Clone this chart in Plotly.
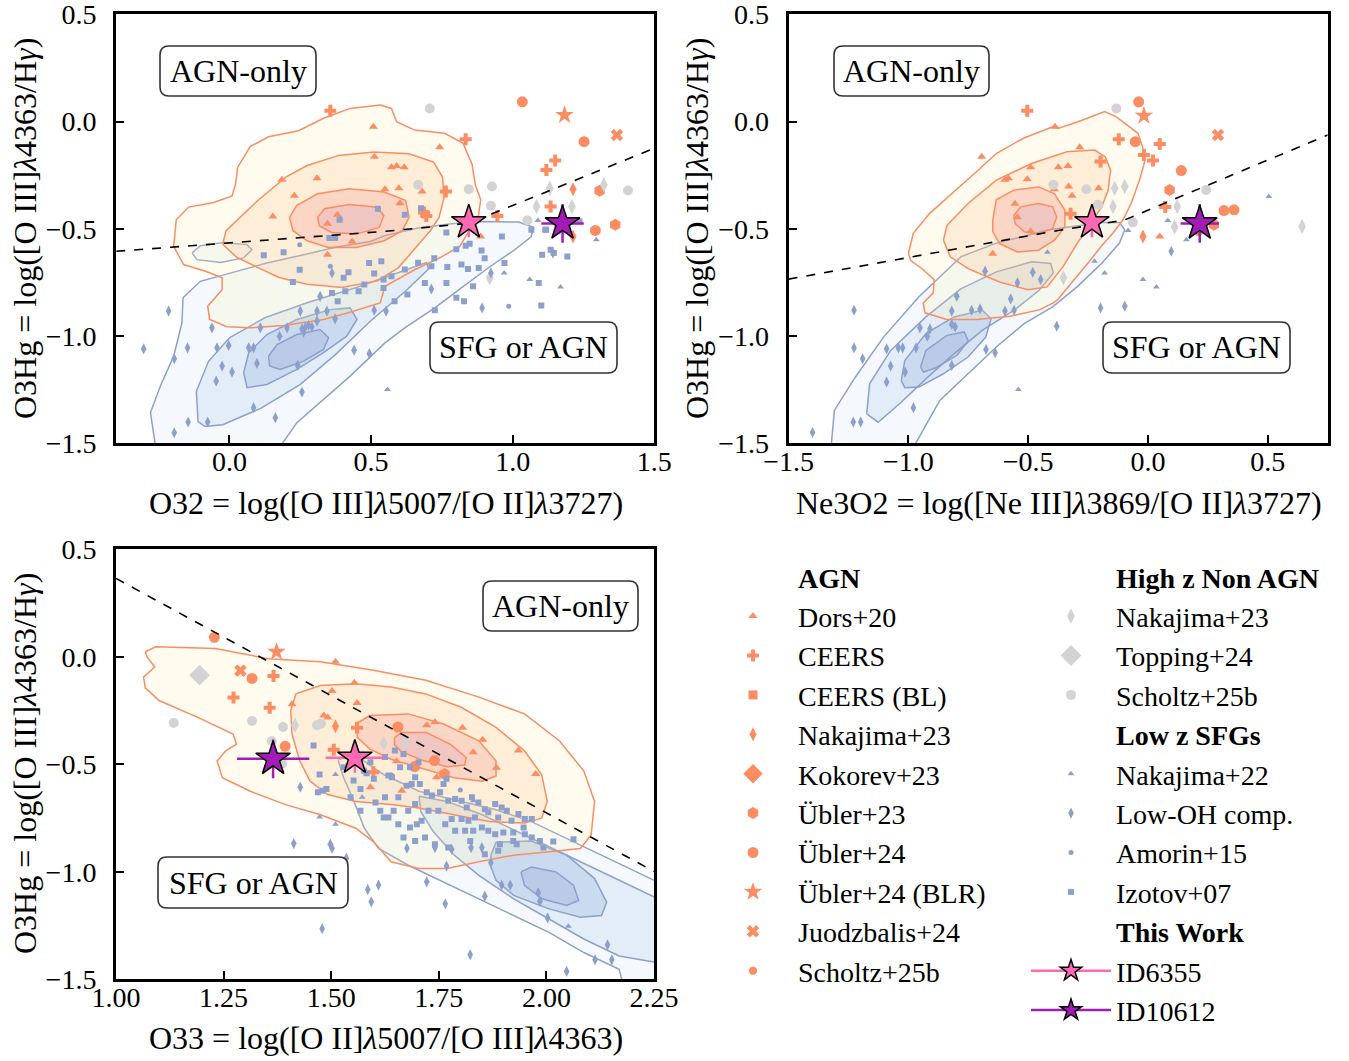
import plotly.graph_objects as go

# ---------------- colours ----------------
ORANGE = "#FC8D62"
BLUE = "#8DA0CB"
GRAY = "#D3D3D3"
PINK = "#FF69B4"
PURPLE = "#A11DB6"

# ---------------- demarcation lines ----------------
P1_DASH = [(-0.40, -0.605), (0.07, -0.559), (0.55, -0.512), (0.84, -0.475), (0.89, -0.45), (1.14, -0.317), (1.50, -0.125)]
P2_DASH = [(-1.50, -0.735), (-0.37, -0.507), (-0.10, -0.46), (0.75, -0.063)]
P3_DASH = [(1.00, 0.364), (2.25, -0.999)]

# ---------------- KDE contour levels (outer -> inner) ----------------
P1_AGN_C1 = [(-0.197, -0.582), (-0.188, -0.458), (-0.144, -0.399), (-0.056, -0.378), (0.009, -0.347), (0.021, -0.295), (0.029, -0.213), (0.073, -0.117), (0.138, -0.071), (0.244, -0.043), (0.332, 0.015), (0.426, 0.061), (0.532, 0.077), (0.572, 0.061), (0.590, -0.001), (0.654, -0.040), (0.760, -0.055), (0.825, -0.102), (0.857, -0.202), (0.868, -0.295), (0.887, -0.365), (0.878, -0.450), (0.848, -0.505), (0.813, -0.582), (0.742, -0.636), (0.654, -0.691), (0.549, -0.768), (0.532, -0.846), (0.426, -0.889), (0.332, -0.923), (0.191, -0.951), (0.073, -0.962), (-0.009, -0.957), (-0.070, -0.923), (-0.077, -0.861), (-0.026, -0.784), (-0.026, -0.729), (-0.085, -0.698), (-0.162, -0.667)]
P1_AGN_C2 = [(-0.024, -0.572), (-0.012, -0.509), (0.100, -0.368), (0.199, -0.259), (0.274, -0.205), (0.386, -0.158), (0.510, -0.142), (0.634, -0.150), (0.721, -0.189), (0.752, -0.259), (0.758, -0.353), (0.740, -0.447), (0.709, -0.509), (0.659, -0.587), (0.597, -0.681), (0.522, -0.743), (0.398, -0.774), (0.274, -0.759), (0.175, -0.727), (0.100, -0.681), (0.026, -0.634)]
P1_AGN_C3 = [(0.212, -0.447), (0.237, -0.392), (0.311, -0.337), (0.423, -0.314), (0.547, -0.329), (0.622, -0.368), (0.634, -0.447), (0.610, -0.509), (0.547, -0.556), (0.448, -0.587), (0.349, -0.587), (0.274, -0.556), (0.224, -0.509)]
P1_AGN_C4 = [(0.311, -0.447), (0.336, -0.407), (0.423, -0.387), (0.522, -0.400), (0.545, -0.439), (0.529, -0.494), (0.448, -0.525), (0.361, -0.517), (0.317, -0.486)]
P1_SFG_C1 = [(-0.256, -1.559), (-0.279, -1.357), (-0.244, -1.233), (-0.197, -1.094), (-0.168, -0.939), (-0.164, -0.822), (-0.103, -0.745), (0.015, -0.703), (0.132, -0.660), (0.262, -0.621), (0.379, -0.585), (0.497, -0.559), (0.549, -0.532), (0.666, -0.497), (0.784, -0.477), (0.901, -0.466), (1.020, -0.469), (1.072, -0.492), (1.066, -0.536), (1.007, -0.598), (0.913, -0.683), (0.819, -0.776), (0.725, -0.869), (0.619, -0.962), (0.549, -1.032), (0.426, -1.187), (0.332, -1.295), (0.238, -1.404), (0.156, -1.559)]
P1_SFG_C1B = [(-0.132, -0.613), (-0.103, -0.579), (-0.021, -0.564), (0.062, -0.574), (0.079, -0.598), (0.050, -0.636), (-0.032, -0.657), (-0.115, -0.644)]
P1_SFG_C2 = [(-0.111, -1.399), (-0.117, -1.258), (-0.074, -1.118), (0.000, -1.008), (0.125, -0.915), (0.274, -0.845), (0.448, -0.774), (0.610, -0.696), (0.696, -0.657), (0.703, -0.688), (0.622, -0.790), (0.498, -0.930), (0.374, -1.087), (0.249, -1.227), (0.112, -1.336), (-0.024, -1.414), (-0.086, -1.422)]
P1_SFG_C3 = [(0.050, -1.171), (0.068, -1.078), (0.132, -0.993), (0.238, -0.923), (0.356, -0.877), (0.426, -0.869), (0.450, -0.923), (0.414, -1.001), (0.332, -1.078), (0.238, -1.156), (0.132, -1.226), (0.062, -1.241)]
P1_SFG_C4 = [(0.138, -1.094), (0.168, -1.040), (0.238, -0.993), (0.320, -0.970), (0.350, -1.008), (0.332, -1.063), (0.262, -1.117), (0.179, -1.156), (0.142, -1.140)]

P2_AGN_C1 = [(-1.000, -0.613), (-0.979, -0.520), (-0.910, -0.427), (-0.799, -0.319), (-0.715, -0.233), (-0.632, -0.148), (-0.520, -0.078), (-0.395, -0.024), (-0.376, -0.032), (-0.292, -0.001), (-0.181, 0.046), (-0.132, 0.022), (-0.097, -0.009), (-0.042, -0.055), (-0.021, -0.125), (-0.014, -0.187), (-0.035, -0.272), (-0.070, -0.381), (-0.104, -0.458), (-0.146, -0.520), (-0.195, -0.582), (-0.250, -0.660), (-0.320, -0.753), (-0.376, -0.830), (-0.395, -0.846), (-0.451, -0.877), (-0.576, -0.908), (-0.715, -0.923), (-0.840, -0.923), (-0.931, -0.892), (-0.938, -0.846), (-0.896, -0.799), (-0.893, -0.737), (-0.938, -0.691), (-0.991, -0.647)]
P2_AGN_C2 = [(-0.854, -0.553), (-0.839, -0.484), (-0.751, -0.382), (-0.633, -0.273), (-0.486, -0.196), (-0.339, -0.141), (-0.222, -0.133), (-0.178, -0.165), (-0.156, -0.227), (-0.166, -0.320), (-0.193, -0.398), (-0.240, -0.476), (-0.296, -0.569), (-0.355, -0.678), (-0.421, -0.771), (-0.502, -0.784), (-0.620, -0.748), (-0.751, -0.686), (-0.825, -0.631)]
P2_AGN_C3 = [(-0.648, -0.458), (-0.633, -0.365), (-0.560, -0.320), (-0.457, -0.305), (-0.391, -0.336), (-0.347, -0.413), (-0.347, -0.491), (-0.391, -0.553), (-0.457, -0.600), (-0.545, -0.608), (-0.620, -0.569), (-0.648, -0.514)]
P2_AGN_C4 = [(-0.560, -0.437), (-0.531, -0.398), (-0.457, -0.382), (-0.398, -0.398), (-0.381, -0.445), (-0.398, -0.499), (-0.457, -0.526), (-0.517, -0.514), (-0.554, -0.476)]
P2_SFG_C1 = [(-1.324, -1.533), (-1.309, -1.347), (-1.221, -1.191), (-1.103, -1.004), (-0.956, -0.817), (-0.883, -0.739), (-0.780, -0.630), (-0.633, -0.567), (-0.413, -0.505), (-0.193, -0.471), (-0.119, -0.471), (-0.097, -0.505), (-0.119, -0.567), (-0.193, -0.661), (-0.296, -0.771), (-0.398, -0.864), (-0.517, -0.942), (-0.633, -1.051), (-0.751, -1.176), (-0.869, -1.300), (-0.986, -1.533)]
P2_SFG_C2 = [(-1.174, -1.363), (-1.162, -1.223), (-1.074, -1.067), (-0.927, -0.911), (-0.780, -0.779), (-0.633, -0.701), (-0.486, -0.654), (-0.406, -0.662), (-0.395, -0.706), (-0.454, -0.787), (-0.560, -0.881), (-0.692, -0.974), (-0.810, -1.083), (-0.927, -1.200), (-1.030, -1.309), (-1.126, -1.402)]
P2_SFG_C3 = [(-1.030, -1.208), (-1.015, -1.114), (-0.927, -0.989), (-0.810, -0.911), (-0.692, -0.880), (-0.655, -0.919), (-0.677, -1.005), (-0.751, -1.098), (-0.854, -1.176), (-0.956, -1.238), (-1.015, -1.241)]
P2_SFG_C4 = [(-0.949, -1.145), (-0.927, -1.067), (-0.839, -0.997), (-0.767, -0.981), (-0.750, -1.023), (-0.797, -1.090), (-0.885, -1.148), (-0.937, -1.168)]

P3_AGN_C1 = [(1.068, 0.023), (1.092, 0.046), (1.231, 0.038), (1.353, -0.009), (1.475, -0.024), (1.598, -0.063), (1.720, -0.110), (1.843, -0.188), (1.949, -0.266), (2.030, -0.391), (2.087, -0.532), (2.112, -0.673), (2.104, -0.829), (2.079, -0.892), (2.006, -0.907), (1.924, -0.923), (1.843, -0.954), (1.769, -0.985), (1.704, -0.985), (1.639, -0.954), (1.598, -0.860), (1.557, -0.798), (1.475, -0.735), (1.394, -0.688), (1.312, -0.626), (1.247, -0.563), (1.235, -0.485), (1.255, -0.438), (1.280, -0.407), (1.272, -0.360), (1.190, -0.282), (1.100, -0.204), (1.068, -0.145), (1.064, -0.095), (1.090, -0.048), (1.072, -0.001)]
P3_AGN_C2 = [(1.406, -0.251), (1.418, -0.173), (1.475, -0.134), (1.557, -0.126), (1.639, -0.141), (1.720, -0.173), (1.802, -0.235), (1.883, -0.329), (1.949, -0.438), (1.989, -0.548), (2.002, -0.673), (1.989, -0.751), (1.949, -0.774), (1.867, -0.767), (1.785, -0.735), (1.704, -0.704), (1.639, -0.688), (1.557, -0.673), (1.492, -0.641), (1.451, -0.579), (1.427, -0.485), (1.409, -0.360)]
P3_AGN_C3 = [(1.557, -0.313), (1.590, -0.274), (1.679, -0.266), (1.761, -0.313), (1.843, -0.391), (1.883, -0.485), (1.883, -0.555), (1.851, -0.579), (1.785, -0.563), (1.720, -0.524), (1.639, -0.477), (1.590, -0.430), (1.561, -0.376)]
P3_AGN_C4 = [(1.647, -0.376), (1.663, -0.352), (1.720, -0.352), (1.777, -0.407), (1.814, -0.470), (1.810, -0.504), (1.769, -0.512), (1.712, -0.482), (1.663, -0.441), (1.647, -0.410)]
P3_SFG_C1 = [(1.516, -0.482), (1.537, -0.457), (1.565, -0.470), (1.622, -0.548), (1.704, -0.626), (1.802, -0.673), (1.883, -0.712), (1.965, -0.767), (2.047, -0.845), (2.128, -0.923), (2.210, -1.001), (2.291, -1.079), (2.291, -1.767), (2.210, -1.767), (2.169, -1.454), (2.087, -1.376), (2.006, -1.282), (1.924, -1.204), (1.843, -1.126), (1.761, -1.048), (1.679, -0.970), (1.610, -0.892), (1.577, -0.798), (1.553, -0.673), (1.529, -0.563)]
P3_SFG_C2 = [(1.704, -0.649), (1.769, -0.673), (1.851, -0.735), (1.932, -0.813), (2.014, -0.892), (2.095, -0.970), (2.177, -1.048), (2.259, -1.126), (2.291, -1.220), (2.259, -1.423), (2.169, -1.392), (2.087, -1.313), (2.006, -1.220), (1.924, -1.126), (1.843, -1.017), (1.786, -0.923), (1.737, -0.813), (1.708, -0.720)]
P3_SFG_C3 = [(1.871, -0.923), (1.883, -0.863), (1.965, -0.857), (2.047, -0.923), (2.112, -1.032), (2.140, -1.142), (2.128, -1.204), (2.079, -1.212), (2.006, -1.173), (1.924, -1.110), (1.883, -1.040), (1.871, -0.977)]
P3_SFG_C4 = [(1.941, -1.001), (1.965, -0.978), (2.022, -1.001), (2.063, -1.063), (2.075, -1.134), (2.047, -1.157), (1.990, -1.126), (1.949, -1.063)]

# ---------------- points: panel 1 (O32, O3Hg) ----------------
P1_DORS = [(0.508, -0.024), (0.512, -0.164), (0.185, -0.272), (0.309, -0.264), (0.229, -0.346), (0.153, -0.443), (0.381, -0.435), (0.346, -0.477), (0.433, -0.559), (0.346, -0.621), (0.742, -0.120), (0.572, -0.213), (0.590, -0.207), (0.617, -0.213), (0.598, -0.311), (0.680, -0.326), (0.602, -0.381), (0.549, -0.316), (0.887, -0.536)]
P1_CEERS = [(0.356, 0.050), (0.834, -0.083), (1.150, -0.182), (1.119, -0.226), (0.764, -0.326), (0.687, -0.424), (0.695, -0.440), (0.946, -0.440), (1.134, -0.396)]
P1_CEERS_BL = []
P1_NAK23_AGN = [(1.213, -0.316), (1.213, -0.536)]
P1_KOKOREV = []
P1_UBLER23 = [(1.307, -0.323), (1.362, -0.481)]
P1_UBLER24 = [(1.034, 0.092), (1.252, -0.094), (1.292, -0.508)]
P1_UBLER24_BLR = [(1.183, 0.030)]
P1_JUOD = [(1.368, -0.063)]
P1_SCH_AGN = []
P1_NAK23_HZ = [(1.084, -0.396), (1.131, -0.311), (1.209, -0.396), (1.322, -0.295), (0.919, -0.729)]
P1_TOPPING = []
P1_SCH_HZ = [(0.707, 0.061), (0.666, -0.295), (0.845, -0.316), (0.927, -0.303), (0.923, -0.393), (1.052, -0.461), (1.407, -0.322), (1.166, -0.505)]
P1_NAK22 = [(1.089, -0.461), (1.295, -0.551), (1.169, -0.771), (1.060, -0.737), (0.970, -0.706), (0.558, -1.249)]
P1_LOWOH = [(-0.215, -0.884), (-0.303, -1.060), (-0.195, -1.106), (-0.148, -1.055), (-0.062, -0.962), (-0.044, -1.055), (-0.026, -1.140), (0.009, -1.168), (-0.047, -1.210), (-0.003, -1.044), (0.068, -1.055), (0.085, -1.055), (0.097, -1.128), (0.109, -0.962), (0.177, -1.001), (0.203, -0.962), (0.256, -0.967), (0.268, -0.958), (0.279, -0.951), (0.291, -0.958), (0.309, -0.931), (0.262, -0.982), (0.241, -1.137), (0.256, -1.261), (0.085, -1.334), (0.162, -1.381), (-0.146, -1.401), (-0.077, -1.401), (-0.195, -1.451), (0.250, -0.884), (0.309, -0.884), (0.344, -0.884), (0.373, -0.920), (0.320, -0.815), (0.362, -0.706), (0.440, -1.066), (0.494, -1.082), (0.511, -0.880), (0.553, -0.884), (0.713, -0.781), (0.892, -0.869), (0.923, -0.706), (1.142, -0.613)]
P1_AMORIN = [(0.986, -0.861), (0.248, -0.575), (0.356, -0.675)]
P1_IZOTOV = [(0.121, -0.624), (0.191, -0.609), (0.248, -0.691), (0.224, -0.748), (0.353, -0.543), (0.373, -0.543), (0.389, -0.458), (0.524, -0.407), (0.493, -0.660), (0.536, -0.652), (0.420, -0.703), (0.403, -0.729), (0.362, -0.799), (0.409, -0.791), (0.456, -0.791), (0.476, -0.760), (0.511, -0.709), (0.544, -0.737), (0.544, -0.776), (0.382, -0.838), (0.676, -0.404), (0.619, -0.435), (0.766, -0.517), (0.801, -0.595), (0.834, -0.579), (0.848, -0.570), (0.890, -0.601), (0.962, -0.536), (0.901, -0.637), (0.769, -0.678), (0.819, -0.667), (0.842, -0.688), (0.880, -0.683), (0.723, -0.637), (0.713, -0.675), (0.666, -0.659), (0.619, -0.690), (0.572, -0.722), (0.628, -0.807), (0.583, -0.838), (0.690, -0.753), (0.766, -0.753), (0.860, -0.768), (0.801, -0.822), (0.828, -0.838), (0.725, -0.880), (0.971, -0.660), (1.092, -0.753), (1.101, -0.858), (1.115, -0.505), (1.134, -0.598), (1.145, -0.613), (1.104, -0.621), (1.193, -0.629), (1.236, -0.466), (1.066, -0.505), (1.118, -0.505)]

# ---------------- points: panel 2 (Ne3O2, O3Hg) ----------------
P2_DORS = [(-0.388, -0.024), (-0.694, -0.164), (-0.490, -0.213), (-0.597, -0.272), (-0.583, -0.264), (-0.504, -0.269), (-0.555, -0.384), (-0.545, -0.446), (-0.490, -0.512), (-0.648, -0.616), (-0.391, -0.316), (-0.374, -0.213), (-0.285, -0.120), (-0.334, -0.207), (-0.331, -0.303), (-0.206, -0.311), (-0.317, -0.346), (0.049, -0.536)]
P2_CEERS = [(-0.504, 0.050), (-0.122, -0.083), (0.049, -0.105), (-0.017, -0.156), (0.021, -0.182), (-0.198, -0.187), (-0.323, -0.430), (0.072, -0.399)]
P2_CEERS_BL = []
P2_NAK23_AGN = [(-0.021, -0.536)]
P2_KOKOREV = []
P2_UBLER23 = [(0.090, -0.319), (0.275, -0.481)]
P2_UBLER24 = [(-0.039, 0.092), (-0.053, -0.094), (0.139, -0.229), (0.317, -0.415), (0.359, -0.412), (0.209, -0.508)]
P2_UBLER24_BLR = [(-0.017, 0.027)]
P2_JUOD = [(0.292, -0.063)]
P2_SCH_AGN = []
P2_NAK23_HZ = [(-0.139, -0.311), (-0.097, -0.303), (-0.146, -0.396), (0.122, -0.396), (0.111, -0.492), (0.643, -0.489), (-0.353, -0.729)]
P2_TOPPING = []
P2_SCH_HZ = [(-0.132, 0.061), (-0.257, -0.316), (-0.209, -0.388), (-0.063, -0.471), (0.243, -0.319), (-0.395, -0.295)]
P2_NAK22 = [(-0.083, -0.508), (0.083, -0.461), (0.160, -0.551), (0.504, -0.350), (-0.223, -0.652), (-0.181, -0.706), (-0.021, -0.737), (0.035, -0.771), (-0.420, -0.610), (-0.541, -1.249)]
P2_LOWOH = [(-1.227, -0.880), (-1.227, -1.055), (-1.191, -1.106), (-1.091, -1.060), (-1.042, -1.055), (-1.024, -1.055), (-1.074, -1.140), (-1.091, -1.215), (-1.014, -1.168), (-0.979, -1.334), (-1.230, -1.401), (-1.199, -1.401), (-1.400, -1.450), (-0.952, -0.962), (-0.921, -1.001), (-0.968, -1.055), (-0.910, -0.967), (-0.819, -0.946), (-0.805, -0.957), (-0.798, -0.815), (-0.819, -0.884), (-0.736, -0.880), (-0.701, -0.874), (-0.819, -1.137), (-0.676, -1.063), (-0.638, -1.078), (-0.597, -0.884), (-0.559, -0.880), (-0.573, -0.827), (-0.545, -0.752), (-0.481, -0.703), (-0.448, -0.737), (-0.680, -0.698), (-0.381, -0.954), (0.097, -0.605), (-0.198, -0.869), (-0.097, -0.861)]
P2_AMORIN = []
P2_IZOTOV = []

# ---------------- points: panel 3 (O33, O3Hg) ----------------
P3_DORS = [(1.510, -0.023), (1.554, -0.121), (1.502, -0.159), (1.560, -0.215), (1.483, -0.273), (1.492, -0.283), (1.409, -0.221), (1.591, -0.607), (1.741, -0.304), (1.722, -0.319), (1.805, -0.330), (1.852, -0.386), (1.830, -0.444), (1.935, -0.436), (1.884, -0.517), (1.975, -0.545), (1.664, -0.623), (1.745, -0.561), (1.652, -0.486)]
P3_CEERS = [(1.366, -0.090), (1.273, -0.190), (1.357, -0.237), (1.560, -0.331), (1.506, -0.433), (1.598, -0.537)]
P3_CEERS_BL = []
P3_NAK23_AGN = [(1.510, -0.324)]
P3_KOKOREV = []
P3_UBLER23 = [(1.763, -0.545)]
P3_UBLER24 = [(1.2285, 0.090), (1.316, -0.101), (1.393, -0.417), (1.655, -0.327), (1.740, -0.483), (1.694, -0.511)]
P3_UBLER24_BLR = [(1.373, 0.023)]
P3_JUOD = [(1.289, -0.065)]
P3_SCH_AGN = []
P3_NAK23_HZ = [(1.416, -0.319), (1.622, -0.402), (1.673, -0.402)]
P3_TOPPING = [(1.194, -0.086)]
P3_SCH_HZ = [(1.134, -0.308), (1.316, -0.299), (1.388, -0.327), (1.467, -0.319), (1.476, -0.312), (1.362, -0.393), (1.386, -0.498)]
P3_NAK22 = [(1.473, -0.745), (1.510, -0.779), (1.510, -0.548), (1.572, -0.654), (1.830, -0.670), (2.051, -1.254)]
P3_LOWOH = [(1.428, -0.607), (1.413, -0.869), (1.498, -0.872), (1.502, -0.891), (1.535, -0.937), (1.585, -1.083), (1.610, -1.062), (1.593, -1.140), (1.479, -1.265), (1.676, -0.891), (1.741, -0.888), (1.768, -0.974), (1.722, -1.047), (1.765, -1.149), (1.857, -1.114), (1.896, -1.062), (1.916, -1.062), (1.981, -1.098), (2.003, -1.215), (1.823, -1.386), (2.047, -1.464), (2.113, -1.410), (2.152, -1.410), (2.142, -1.340), (1.825, -0.888), (1.850, -0.888), (1.780, -0.896), (1.871, -0.958), (1.985, -1.137)]
P3_AMORIN = [(1.640, -0.550), (1.800, -0.620)]
P3_IZOTOV = [(1.625, -0.467), (1.633, -0.553), (1.641, -0.561), (1.648, -0.436), (1.668, -0.452), (1.660, -0.514), (1.683, -0.514), (1.703, -0.491), (1.695, -0.561), (1.706, -0.592), (1.687, -0.592), (1.675, -0.600), (1.656, -0.654), (1.625, -0.654), (1.645, -0.717), (1.656, -0.779), (1.633, -0.748), (1.679, -0.717), (1.695, -0.685), (1.722, -0.631), (1.734, -0.646), (1.753, -0.631), (1.761, -0.592), (1.768, -0.568), (1.772, -0.670), (1.788, -0.662), (1.803, -0.670), (1.815, -0.701), (1.827, -0.654), (1.842, -0.678), (1.857, -0.709), (1.865, -0.724), (1.881, -0.685), (1.896, -0.701), (1.908, -0.717), (1.888, -0.748), (1.919, -0.763), (1.935, -0.732), (1.950, -0.755), (1.966, -0.755), (1.947, -0.794), (1.923, -0.818), (1.900, -0.818), (1.881, -0.826), (1.865, -0.810), (1.850, -0.794), (1.834, -0.748), (1.819, -0.763), (1.803, -0.755), (1.780, -0.755), (1.765, -0.779), (1.749, -0.717), (1.726, -0.717), (1.710, -0.763), (1.699, -0.779), (1.683, -0.794), (1.668, -0.841), (1.695, -0.857), (1.718, -0.841), (1.741, -0.872), (1.772, -0.888), (1.788, -0.810), (1.811, -0.810), (1.830, -0.810), (1.823, -0.857), (1.892, -0.872), (1.923, -0.857), (1.950, -0.826), (1.966, -0.841), (1.985, -0.857), (2.016, -0.860), (1.993, -0.888), (2.063, -0.849), (1.857, -0.919), (1.888, -0.903), (1.931, -0.872), (1.459, -0.413), (1.473, -0.548), (1.480, -0.623), (1.469, -0.631), (1.489, -0.615), (1.529, -0.514), (1.552, -0.576), (1.576, -0.530), (1.582, -0.542), (1.568, -0.615), (1.599, -0.568), (1.603, -0.678), (1.614, -0.717), (1.622, -0.748), (1.568, -0.717), (1.545, -0.654), (1.591, -0.491)]

# ---------------- this work ----------------
ID6355_O3HG, ID6355_O3HG_ERR = -0.47, 0.07
ID6355_O32, ID6355_O32_ERR = 0.845, 0.02
ID6355_NE3O2, ID6355_NE3O2_ERR = -0.234, 0.02
ID6355_O33, ID6355_O33_ERR = 1.555, 0.068
ID10612_O3HG, ID10612_O3HG_ERR = -0.475, 0.09
ID10612_O32, ID10612_O32_ERR = 1.176, 0.075
ID10612_NE3O2, ID10612_NE3O2_ERR = 0.216, 0.08
ID10612_O33, ID10612_O33_ERR = 1.365, 0.084

X_TICKS_P1 = [0.0, 0.5, 1.0, 1.5]
X_TICKS_P2 = [-1.5, -1.0, -0.5, 0.0, 0.5]
X_TICKS_P3 = [1.00, 1.25, 1.50, 1.75, 2.00, 2.25]
Y_TICKS = [0.5, 0.0, -0.5, -1.0, -1.5]

FONT = "Liberation Serif, Times New Roman, serif"
W, H = 1349, 1061

# marker styles: (key, legend label, symbol, size, colour, legend, rank)
CATS = [
    ("DORS", "Dors+20", "triangle-up", 8, ORANGE, "legend", 2),
    ("CEERS", "CEERS", "cross", 10, ORANGE, "legend", 3),
    ("CEERS_BL", "CEERS (BL)", "square", 9, ORANGE, "legend", 4),
    ("NAK23_AGN", "Nakajima+23", "diamond-tall", 10, ORANGE, "legend", 5),
    ("KOKOREV", "Kokorev+23", "diamond", 15, ORANGE, "legend", 6),
    ("UBLER23", "Übler+23", "hexagon", 12, ORANGE, "legend", 7),
    ("UBLER24", "Übler+24", "circle", 11, ORANGE, "legend", 8),
    ("UBLER24_BLR", "Übler+24 (BLR)", "star", 14, ORANGE, "legend", 9),
    ("JUOD", "Juodzbalis+24", "x", 11, ORANGE, "legend", 10),
    ("SCH_AGN", "Scholtz+25b", "circle", 8, ORANGE, "legend", 11),
    ("NAK23_HZ", "Nakajima+23", "diamond-tall", 11, GRAY, "legend2", 2),
    ("TOPPING", "Topping+24", "diamond", 16, GRAY, "legend2", 3),
    ("SCH_HZ", "Scholtz+25b", "circle", 10, GRAY, "legend2", 4),
    ("NAK22", "Nakajima+22", "triangle-up", 6, BLUE, "legend2", 6),
    ("LOWOH", "Low-OH comp.", "diamond-tall", 8, BLUE, "legend2", 7),
    ("AMORIN", "Amorin+15", "circle", 5, BLUE, "legend2", 8),
    ("IZOTOV", "Izotov+07", "square", 6, BLUE, "legend2", 9),
]
HEADERS = [("AGN", "legend", 1), ("High z Non AGN", "legend2", 1), ("Low z SFGs", "legend2", 5), ("This Work", "legend2", 10)]

PANELS = [
    dict(ax=("x", "y"), dash=P1_DASH, pre="P1_",
         agn=[P1_AGN_C1, P1_AGN_C2, P1_AGN_C3, P1_AGN_C4],
         sfg=[P1_SFG_C1, P1_SFG_C2, P1_SFG_C3, P1_SFG_C4], sfg_extra=[P1_SFG_C1B],
         s6355=(ID6355_O32, ID6355_O32_ERR), s10612=(ID10612_O32, ID10612_O32_ERR)),
    dict(ax=("x2", "y2"), dash=P2_DASH, pre="P2_",
         agn=[P2_AGN_C1, P2_AGN_C2, P2_AGN_C3, P2_AGN_C4],
         sfg=[P2_SFG_C1, P2_SFG_C2, P2_SFG_C3, P2_SFG_C4], sfg_extra=[],
         s6355=(ID6355_NE3O2, ID6355_NE3O2_ERR), s10612=(ID10612_NE3O2, ID10612_NE3O2_ERR)),
    dict(ax=("x3", "y3"), dash=P3_DASH, pre="P3_",
         agn=[P3_AGN_C1, P3_AGN_C2, P3_AGN_C3, P3_AGN_C4],
         sfg=[P3_SFG_C1, P3_SFG_C2, P3_SFG_C3, P3_SFG_C4], sfg_extra=[],
         s6355=(ID6355_O33, ID6355_O33_ERR), s10612=(ID10612_O33, ID10612_O33_ERR)),
]

AGN_FILLS = ["rgba(255,236,160,0.17)", "rgba(250,180,115,0.19)", "rgba(240,120,120,0.20)", "rgba(200,140,190,0.22)"]
SFG_FILLS = ["rgba(190,215,240,0.16)", "rgba(160,195,230,0.22)", "rgba(130,165,215,0.24)", "rgba(140,150,200,0.24)"]


def split(pts):
    if not pts:
        return [None], [None]
    return [p[0] for p in pts], [p[1] for p in pts]


def closed(pts):
    return list(pts) + [pts[0]]


fig = go.Figure()
G = globals()

for i, pn in enumerate(PANELS):
    xa, ya = pn["ax"]
    for levels, fills, lc in ((pn["sfg"] + pn["sfg_extra"], SFG_FILLS + SFG_FILLS[:1], BLUE), (pn["agn"], AGN_FILLS, ORANGE)):
        for poly, fc in zip(levels, fills):
            cx, cy = split(closed(poly))
            fig.add_trace(go.Scatter(x=cx, y=cy, xaxis=xa, yaxis=ya, mode="lines", fill="toself",
                                     fillcolor=fc, line=dict(color=lc, width=1.5), showlegend=False,
                                     hoverinfo="skip"))
    for key, label, sym, size, col, leg, rank in CATS:
        px, py = split(G[pn["pre"] + key])
        fig.add_trace(go.Scatter(x=px, y=py, xaxis=xa, yaxis=ya, mode="markers", name=label,
                                 marker=dict(symbol=sym, size=size, color=col, line=dict(width=0)),
                                 legend=leg, legendrank=rank, legendgroup=leg + label,
                                 showlegend=(i == 0)))
    dx, dy = split(pn["dash"])
    fig.add_trace(go.Scatter(x=dx, y=dy, xaxis=xa, yaxis=ya, mode="lines",
                             line=dict(color="black", width=1.6, dash="dash"), showlegend=False,
                             hoverinfo="skip"))
    for (xv, xe), yv, ye, col, nm, rank in ((pn["s6355"], ID6355_O3HG, ID6355_O3HG_ERR, PINK, "ID6355", 11),
                                            (pn["s10612"], ID10612_O3HG, ID10612_O3HG_ERR, PURPLE, "ID10612", 12)):
        fig.add_trace(go.Scatter(x=[xv], y=[yv], xaxis=xa, yaxis=ya, mode="lines+markers", name=nm,
                                 error_x=dict(type="data", array=[xe], color=col, thickness=2.5, width=0),
                                 error_y=dict(type="data", array=[ye], color=col, thickness=2.5, width=0),
                                 marker=dict(symbol="star", size=26, color=col, line=dict(color="black", width=1.5)),
                                 line=dict(color=col, width=2.5),
                                 legend="legend2", legendrank=rank, legendgroup=nm, showlegend=(i == 0)))

for txt, leg, rank in HEADERS:
    fig.add_trace(go.Scatter(x=[None], y=[None], mode="markers", name="<b>" + txt + "</b>",
                             marker=dict(size=1, color="rgba(0,0,0,0)"), legend=leg, legendrank=rank,
                             hoverinfo="skip"))

axis_common = dict(showgrid=False, zeroline=False, showline=True, linecolor="black", linewidth=3,
                   mirror=True, ticks="inside", ticklen=8, tickwidth=2, tickcolor="black", automargin=False,
                   ticklabeloverflow="allow",
                   tickfont=dict(family=FONT, size=28, color="black"))
xax = dict(axis_common, ticklabelstandoff=-9)
yax = dict(axis_common, ticklabelstandoff=11)

fig.update_layout(
    template="none",
    width=W, height=H, margin=dict(l=0, r=0, t=0, b=0, autoexpand=False),
    paper_bgcolor="white", plot_bgcolor="white",
    font=dict(family=FONT, color="black"),
    xaxis=dict(domain=[116.2 / W, 654.3 / W], range=[-0.4, 1.5], tickvals=X_TICKS_P1, tickformat=".1f", anchor="y", **xax),
    yaxis=dict(domain=[1 - 443.25 / H, 1 - 14.25 / H], range=[-1.5, 0.5], tickvals=Y_TICKS, tickformat=".1f", anchor="x", **yax),
    xaxis2=dict(domain=[788.6 / W, 1327.7 / W], range=[-1.5, 0.75], tickvals=X_TICKS_P2, tickformat=".1f", anchor="y2", **xax),
    yaxis2=dict(domain=[1 - 443.25 / H, 1 - 14.25 / H], range=[-1.5, 0.5], tickvals=Y_TICKS, tickformat=".1f", anchor="x2", **yax),
    xaxis3=dict(domain=[116 / W, 654 / W], range=[1.0, 2.25], tickvals=X_TICKS_P3, tickformat=".2f", anchor="y3", **xax),
    yaxis3=dict(domain=[1 - 979.2 / H, 1 - 549.2 / H], range=[-1.5, 0.5], tickvals=Y_TICKS, tickformat=".1f", anchor="x3", **yax),
    legend=dict(x=708 / W, y=1 - 552 / H, xanchor="left", yanchor="top", bgcolor="rgba(0,0,0,0)",
                font=dict(family=FONT, size=28, color="black"), itemsizing="trace", itemwidth=80,
                traceorder="normal", borderwidth=0),
    legend2=dict(x=1026 / W, y=1 - 552 / H, xanchor="left", yanchor="top", bgcolor="rgba(0,0,0,0)",
                 font=dict(family=FONT, size=28, color="black"), itemsizing="trace", itemwidth=80,
                 traceorder="normal", borderwidth=0),
    showlegend=True,
)

ann = []
TITLE_FONT = dict(family=FONT, size=32, color="black")
ann += [
    dict(text="O32 = log([O III]<i>λ</i>5007/[O II]<i>λ</i>3727)", x=386 / W, y=1 - 503 / H),
    dict(text="Ne3O2 = log([Ne III]<i>λ</i>3869/[O II]<i>λ</i>3727)", x=1059 / W, y=1 - 503 / H),
    dict(text="O33 = log([O II]<i>λ</i>5007/[O III]<i>λ</i>4363)", x=386 / W, y=1 - 1038 / H),
    dict(text="O3Hg = log([O III]<i>λ</i>4363/H<i>γ</i>)", x=25 / W, y=1 - 229 / H, textangle=-90),
    dict(text="O3Hg = log([O III]<i>λ</i>4363/H<i>γ</i>)", x=697 / W, y=1 - 229 / H, textangle=-90),
    dict(text="O3Hg = log([O III]<i>λ</i>4363/H<i>γ</i>)", x=25 / W, y=1 - 764 / H, textangle=-90),
]
for a in ann:
    a.update(xref="paper", yref="paper", showarrow=False, font=TITLE_FONT, xanchor="center", yanchor="middle")

# labelled regions: rounded boxes (pixel extents) + text
BOXES = [("AGN-only", 160, 46, 316, 96), ("AGN-only", 834, 46, 989, 96), ("AGN-only", 483, 581, 638, 631),
         ("SFG or AGN", 430, 322, 617, 373), ("SFG or AGN", 1103, 322, 1290, 373), ("SFG or AGN", 158, 857, 348, 908)]
BOX_FONT = dict(family=FONT, size=32, color="black")


def rounded_path(x0, y0, x1, y1, r=9):
    X = lambda v: v / W
    Y = lambda v: 1 - v / H
    return (f"M {X(x0 + r)},{Y(y0)} L {X(x1 - r)},{Y(y0)} Q {X(x1)},{Y(y0)} {X(x1)},{Y(y0 + r)} "
            f"L {X(x1)},{Y(y1 - r)} Q {X(x1)},{Y(y1)} {X(x1 - r)},{Y(y1)} "
            f"L {X(x0 + r)},{Y(y1)} Q {X(x0)},{Y(y1)} {X(x0)},{Y(y1 - r)} "
            f"L {X(x0)},{Y(y0 + r)} Q {X(x0)},{Y(y0)} {X(x0 + r)},{Y(y0)} Z")


shapes = []
for txt, x0, y0, x1, y1 in BOXES:
    shapes.append(dict(type="path", path=rounded_path(x0, y0, x1, y1), xref="paper", yref="paper",
                       line=dict(color="#333333", width=1.6), fillcolor="rgba(255,255,255,0.8)", layer="above"))
    ann.append(dict(text=txt, x=(x0 + x1) / 2 / W, y=1 - (y0 + y1) / 2 / H, xref="paper", yref="paper",
                    showarrow=False, font=BOX_FONT, xanchor="center", yanchor="middle"))
fig.update_layout(annotations=ann, shapes=shapes)

fig.write_html("out.html", config={"displayModeBar": False},
               post_script="document.body.style.margin='0px';document.body.style.overflow='hidden';")
